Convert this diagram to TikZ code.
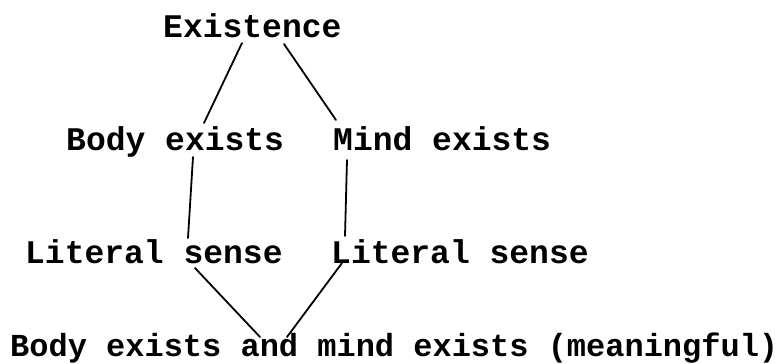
\documentclass[tikz,border=0pt]{standalone}
\usepackage{fontspec}
\setmainfont{Liberation Mono}
\begin{document}
\begin{tikzpicture}[x=1pt,y=-1pt,
  lbl/.style={anchor=base west,inner sep=0pt,font=\fontsize{33}{36}\selectfont\bfseries},
  lblb/.style={anchor=base west,inner sep=0pt,font=\fontsize{32}{36}\selectfont\bfseries},
  conn/.style={line width=1.8pt,line cap=round}]
\useasboundingbox (0,0) rectangle (777,364);
\node[lbl] (ex) at (163,37) {Existence};
\node[lbl] (body) at (66,150) {Body exists};
\node[lbl] (mind) at (333,150) {Mind exists};
\node[lbl] (lit1) at (25,263) {Literal sense};
\node[lbl] (lit2) at (331,263) {Literal sense};
\node[lblb] (both) at (10,356) {Body exists and mind exists (meaningful)};
\draw[conn] ([shift={(79,6)}]ex.base west) -- ([shift={(138,-27)}]body.base west);
\draw[conn] ([shift={(121,7)}]ex.base west) -- ([shift={(3,-30)}]mind.base west);
\draw[conn] ([shift={(127,7)}]body.base west) -- ([shift={(163,-25)}]lit1.base west);
\draw[conn] ([shift={(14,10)}]mind.base west) -- ([shift={(14,-27)}]lit2.base west);
\draw[conn] ([shift={(170,5)}]lit1.base west) -- ([shift={(250,-19)}]both.base west);
\draw[conn] ([shift={(11,0)}]lit2.base west) -- ([shift={(277,-19)}]both.base west);
\end{tikzpicture}
\end{document}
